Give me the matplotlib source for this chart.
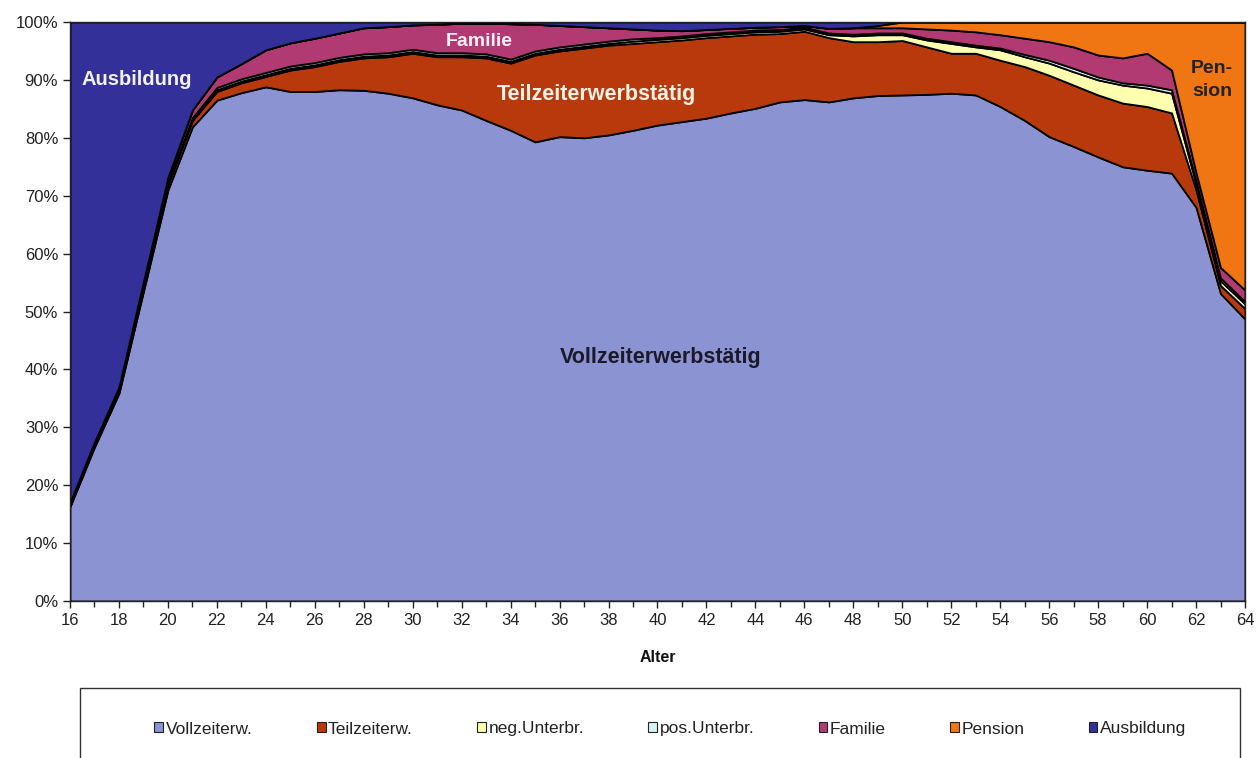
import matplotlib
matplotlib.use("Agg")
import matplotlib.pyplot as plt
from matplotlib.patches import Patch, Rectangle

plt.rcParams['font.family'] = ['Liberation Sans', 'DejaVu Sans']

# Alter 16..64
ages = list(range(16, 65))

# Anteile in % je Alter
vollzeit = [16.3, 26.6, 35.9, 53.5, 71.0, 81.9, 86.5, 87.8, 88.8, 88.0,
            88.0, 88.3, 88.2, 87.7, 86.9, 85.7, 84.8, 83.0, 81.3, 79.3,
            80.2, 80.0, 80.5, 81.3, 82.2, 82.8, 83.4, 84.3, 85.1, 86.2,
            86.6, 86.2, 86.9, 87.3, 87.4, 87.5, 87.7, 87.4, 85.4, 83.0,
            80.2, 78.5, 76.7, 75.0, 74.4, 73.9, 68.0, 53.1, 48.7]
teilzeit = [0.2, 0.3, 0.4, 0.7, 1.0, 1.1, 1.5, 1.7, 1.8, 3.7,
            4.3, 4.9, 5.6, 6.3, 7.7, 8.3, 9.2, 10.8, 11.6, 15.0,
            14.8, 15.5, 15.5, 15.0, 14.4, 14.1, 13.9, 13.3, 12.8, 11.8,
            11.8, 11.1, 9.7, 9.3, 9.4, 8.2, 6.9, 7.2, 8.0, 9.3,
            10.6, 10.6, 10.7, 11.0, 11.0, 10.4, 3.0, 1.4, 1.8]
neg_unterbr = [0.1, 0.1, 0.1, 0.1, 0.2, 0.2, 0.3, 0.3, 0.3, 0.3,
               0.3, 0.3, 0.3, 0.3, 0.3, 0.3, 0.3, 0.3, 0.3, 0.3,
               0.3, 0.3, 0.3, 0.4, 0.4, 0.4, 0.4, 0.4, 0.4, 0.4,
               0.4, 0.5, 1.0, 1.2, 1.0, 1.2, 1.7, 1.1, 1.8, 1.7,
               2.1, 2.3, 2.6, 3.1, 3.2, 3.4, 1.0, 0.8, 0.8]
pos_unterbr = [0.1, 0.1, 0.1, 0.2, 0.2, 0.3, 0.4, 0.4, 0.4, 0.4,
               0.4, 0.4, 0.4, 0.4, 0.4, 0.4, 0.4, 0.4, 0.4, 0.4,
               0.4, 0.4, 0.4, 0.4, 0.3, 0.3, 0.3, 0.3, 0.3, 0.3,
               0.3, 0.3, 0.3, 0.3, 0.3, 0.3, 0.3, 0.3, 0.3, 0.4,
               0.5, 0.6, 0.5, 0.4, 0.5, 0.6, 0.5, 0.5, 0.4]
familie = [0.3, 0.4, 0.5, 0.7, 0.8, 1.3, 1.8, 2.6, 3.9, 4.0,
           4.2, 4.2, 4.5, 4.5, 4.2, 4.9, 5.1, 5.3, 6.1, 4.6,
           3.7, 3.0, 2.3, 1.7, 1.3, 0.9, 0.7, 0.6, 0.5, 0.5,
           0.3, 0.8, 1.1, 0.9, 0.9, 1.6, 2.0, 2.3, 2.3, 2.8,
           3.2, 3.7, 3.8, 4.3, 5.5, 3.4, 1.5, 1.8, 2.0]
pension = [0.0, 0.0, 0.0, 0.0, 0.0, 0.0, 0.0, 0.0, 0.0, 0.0,
           0.0, 0.0, 0.0, 0.0, 0.0, 0.0, 0.0, 0.0, 0.0, 0.0,
           0.0, 0.0, 0.0, 0.0, 0.0, 0.0, 0.0, 0.0, 0.0, 0.0,
           0.0, 0.0, 0.0, 0.4, 1.0, 1.2, 1.4, 1.7, 2.2, 2.8,
           3.4, 4.3, 5.7, 6.2, 5.4, 8.3, 26.0, 42.4, 46.3]
ausbildung = [83.0, 72.5, 63.0, 44.8, 26.8, 15.2, 9.5, 7.2, 4.8, 3.6,
              2.8, 1.9, 1.0, 0.8, 0.5, 0.4, 0.2, 0.2, 0.3, 0.4,
              0.6, 0.8, 1.0, 1.2, 1.4, 1.5, 1.3, 1.1, 0.9, 0.8,
              0.6, 1.1, 1.0, 0.6, 0.0, 0.0, 0.0, 0.0, 0.0, 0.0,
              0.0, 0.0, 0.0, 0.0, 0.0, 0.0, 0.0, 0.0, 0.0]

legend_labels = ['Vollzeiterw.', 'Teilzeiterw.', 'neg.Unterbr.', 'pos.Unterbr.',
                 'Familie', 'Pension', 'Ausbildung']
colors = ['#8b93d3', '#b83a0c', '#ffffb0', '#d6f4f4', '#b23a72', '#f07614', '#33309a']

fig = plt.figure(figsize=(12.6, 7.58), dpi=100)
ax = fig.add_axes([70 / 1260, 1 - 601 / 758, 1175 / 1260, 579 / 758])

ax.stackplot(ages, vollzeit, teilzeit, neg_unterbr, pos_unterbr, familie,
             pension, ausbildung, colors=colors, edgecolor='black', linewidth=1.3)

ax.set_xlim(16, 64)
ax.set_ylim(0, 100)
ax.set_xticks(range(16, 65, 2))
ax.set_xticks(range(16, 65), minor=True)
ax.set_yticks(range(0, 101, 10))
ax.set_yticklabels([f"{v}%" for v in range(0, 101, 10)])
ax.tick_params(axis='both', which='both', direction='out', labelsize=12,
               colors='#222222', length=5, width=1)
ax.tick_params(axis='x', which='minor', length=4)
for sp in ax.spines.values():
    sp.set_color('#222222')
    sp.set_linewidth(1)

ax.set_xlabel("Alter", fontweight='bold', fontsize=11.5, labelpad=16, color='#111111')

# Beschriftungen in der Fläche
ax.text(16.45, 90, "Ausbildung", color='#f2f2f2', fontweight='bold', fontsize=14.5,
        ha='left', va='center')
ax.text(32.7, 96.6, "Familie", color='#f6f0f4', fontweight='bold', fontsize=14,
        ha='center', va='center')
ax.text(37.5, 87.4, "Teilzeiterwerbstätig", color='#faf2e6', fontweight='bold',
        fontsize=15.5, ha='center', va='center')
ax.text(40.15, 42, "Vollzeiterwerbstätig", color='#1a1a2a', fontweight='bold',
        fontsize=15.5, ha='center', va='center')
ax.text(62.65, 90.0, "Pen-\nsion", color='#222222', fontweight='bold', fontsize=14,
        ha='center', va='center', linespacing=1.4)

# Legendenrahmen (unten abgeschnitten)
fig.patches.append(Rectangle((80 / 1260, -0.05), 1160 / 1260, 0.05 + 1 - 688 / 758,
                             transform=fig.transFigure, fill=False,
                             edgecolor='#333333', linewidth=1))
handles = [Patch(facecolor=c, edgecolor='#222222', linewidth=0.8) for c in colors]
fig.legend(handles, legend_labels, loc='center', bbox_to_anchor=(0.532, 1 - 729 / 758),
           ncol=7, frameon=False, fontsize=12.5, handlelength=0.5, handleheight=0.5,
           handletextpad=0.15, columnspacing=3.7, labelcolor='#222222')

fig.savefig("out.png", dpi=100)
